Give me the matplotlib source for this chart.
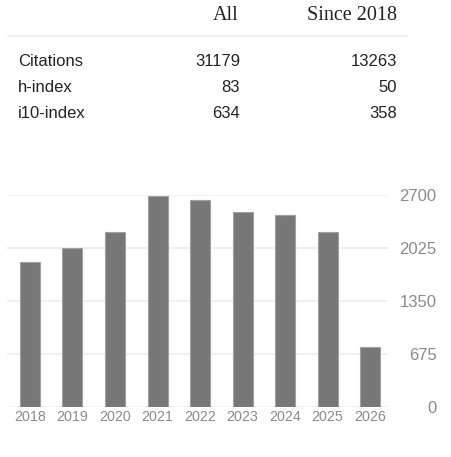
import numpy as np
import matplotlib.pyplot as plt

# summary table
row_names = ['Citations', 'h-index', 'i10-index']
all_vals = ['31179', '83', '634']
since_vals = ['13263', '50', '358']
col_heads = ['All', 'Since 2018']

# citations per year
years = ['2018', '2019', '2020', '2021', '2022', '2023', '2024', '2025', '2026']
cites = [1845, 2030, 2235, 2690, 2640, 2480, 2440, 2235, 765]
yticks = [0, 675, 1350, 2025, 2700]

W, H = 452, 457
fig = plt.figure(figsize=(W / 100, H / 100), dpi=100)

def fx(px):
    return px / W

def fy(py):
    return 1 - py / H

# table header
fig.text(fx(239), fy(16), col_heads[0], ha='right', va='center',
         family='Liberation Serif', fontsize=14.5, color='#222222')
fig.text(fx(397), fy(16), col_heads[1], ha='right', va='center',
         family='Liberation Serif', fontsize=14.5, color='#222222')
fig.add_artist(plt.Line2D([fx(8), fx(408)], [fy(36), fy(36)],
                          color='#eeeeee', lw=1.2))

row_y = [62, 88, 114]
for name, a, s, y in zip(row_names, all_vals, since_vals, row_y):
    fig.text(fx(18), fy(y), name, ha='left', va='center',
             family='Liberation Sans', fontsize=12, color='#222222')
    fig.text(fx(240), fy(y), a, ha='right', va='center',
             family='Liberation Sans', fontsize=12, color='#222222')
    fig.text(fx(397), fy(y), s, ha='right', va='center',
             family='Liberation Sans', fontsize=12, color='#222222')

# bar chart
ax = fig.add_axes([fx(7), fy(407.3), fx(388) - fx(7), fy(195) - fy(407.3)])
x = np.arange(len(years))
ax.bar(x, cites, width=0.47, color='#777777', edgecolor='#a0a0a0',
       linewidth=0.8, zorder=3)
ax.set_xlim(-0.54, 8.42)
ax.set_ylim(0, 2700)

for v in yticks:
    ax.axhline(v, color='#eeeeee', lw=1.2, zorder=1)

for sp in ax.spines.values():
    sp.set_visible(False)

ax.set_xticks(x)
ax.set_xticklabels(years, family='Liberation Sans', fontsize=10.3,
                   color='#8a8a8a')
ax.tick_params(axis='x', length=0, pad=2)

ax.yaxis.tick_right()
ax.set_yticks(yticks)
ax.set_yticklabels([str(v) for v in yticks], family='Liberation Sans',
                   fontsize=12, color='#8a8a8a', ha='right')
ax.tick_params(axis='y', length=0, pad=35)

fig.savefig('out.png', dpi=100)
